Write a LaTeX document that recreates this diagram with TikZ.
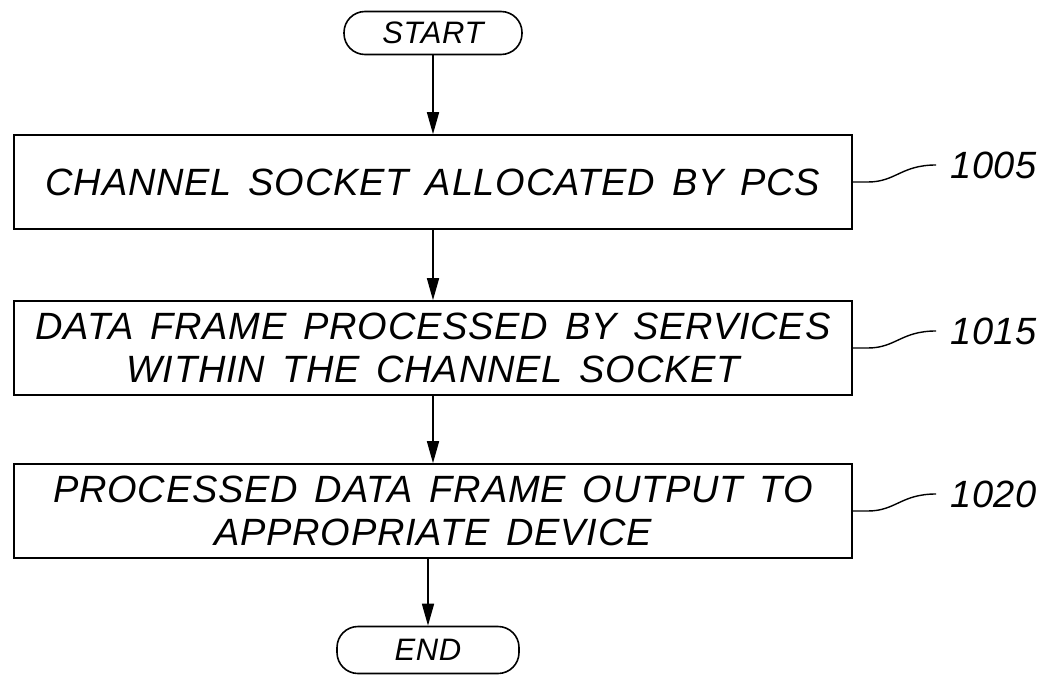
\documentclass[tikz,border=0pt]{standalone}
\usepackage{fontspec}
\setmainfont{Liberation Sans}[LetterSpace=2, WordSpace=1.5]
\usetikzlibrary{arrows.meta}
\begin{document}
\begin{tikzpicture}[x=1pt,y=-1pt,
  every node/.style={font=\fontsize{38}{43}\selectfont\itshape},
  procbox/.style={draw, line width=1.6pt, minimum width=838pt, minimum height=94pt, align=center, inner sep=0pt},
  term/.style={draw, line width=1.6pt, rounded corners=21pt, inner sep=0pt, font=\fontsize{31}{36}\selectfont\itshape},
  flow/.style={line width=1.6pt, -{Triangle[length=22pt,width=12pt]}},
  leader/.style={line width=1.4pt},
  reflabel/.style={anchor=west, inner sep=0pt}]
\useasboundingbox (0,0) rectangle (1043,679);
\node[term, minimum width=178pt, minimum height=43pt] (start) at (433,33) {START};
\node[procbox] (b1) at (433,182) {CHANNEL SOCKET ALLOCATED BY PCS};
\node[procbox] (b2) at (433,348) {DATA FRAME PROCESSED BY SERVICES\\WITHIN THE CHANNEL SOCKET};
\node[procbox] (b3) at (433,511) {PROCESSED DATA FRAME OUTPUT TO\\APPROPRIATE DEVICE};
\node[term, minimum width=182pt, minimum height=47pt] (end) at (428,650) {END};
\draw[flow] (start) -- (b1);
\draw[flow] (b1) -- (b2);
\draw[flow] (b2) -- (b3);
\draw[flow] (b3.south -| end.north) -- (end.north);
\node[reflabel] (l1) at (950,165) {1005};
\node[reflabel] (l2) at (950,331) {1015};
\node[reflabel] (l3) at (950,494) {1020};
\draw[leader] (b1.east) -- ++(15,0) .. controls +(28,0) and +(-35,0) .. ([xshift=-14pt]l1.west);
\draw[leader] (b2.east) -- ++(15,0) .. controls +(28,0) and +(-35,0) .. ([xshift=-14pt]l2.west);
\draw[leader] (b3.east) -- ++(15,0) .. controls +(28,0) and +(-35,0) .. ([xshift=-14pt]l3.west);
\end{tikzpicture}
\end{document}
